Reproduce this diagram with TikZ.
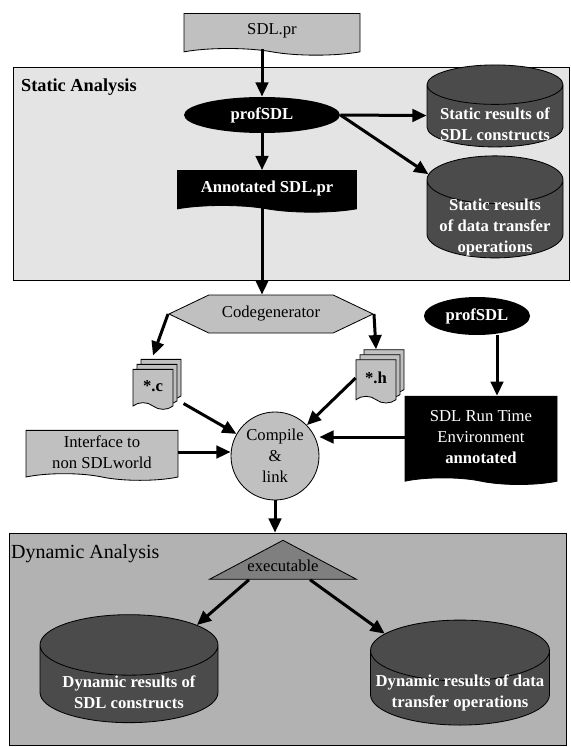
\documentclass[tikz,border=0pt]{standalone}
\usepackage{fontspec}
\setmainfont{Liberation Serif}
\usepackage{tikz}
\usetikzlibrary{arrows.meta,calc,shapes.geometric,shapes.symbols,shadows}

\definecolor{silver}{HTML}{C0C0C0}
\definecolor{lightarea}{HTML}{E4E4E4}
\definecolor{darkarea}{HTML}{B2B2B2}
\definecolor{storefill}{HTML}{4B4B4B}
\definecolor{trifill}{HTML}{7F7F7F}

\begin{document}
\begin{tikzpicture}[->,>={Triangle[length=8.5pt,width=7.5pt]},line width=1.8pt,
                    x=0.6pt,y=-0.6pt,font=\fontsize{10}{12.5}\selectfont]
  \tikzstyle{every node}=[line width=0.5pt,inner sep=1pt,align=center]
  \tikzstyle{area}=[draw,rectangle]
  \tikzstyle{doc}=[draw,tape,tape bend top=none,tape bend bottom=out and in,
                   tape bend height=4pt]
  \tikzstyle{blackdoc}=[doc,fill=black,text=white]
  \tikzstyle{oval}=[ellipse,fill=black,text=white,inner sep=0pt]
  \tikzstyle{store}=[draw,cylinder,shape border rotate=90,shape aspect=0.3,
                     fill=storefill,inner sep=0pt]
  \tikzstyle{storetext}=[text=white,font=\fontsize{10}{12.5}\selectfont\bfseries,yshift=-5pt]
  \tikzstyle{stack}=[doc,fill=silver,
                     double copy shadow={shadow xshift=2.4pt,shadow yshift=3pt}]

  \useasboundingbox (0,0) rectangle (571,747);

  % static part
  \node[area,fill=lightarea,minimum width=333.6pt,minimum height=127.8pt] (static) at (291,173.5) {};
  \node[anchor=north west,font=\fontsize{11}{13}\selectfont\bfseries] (stlabel) at (19,77) {Static Analysis};

  \node[doc,fill=silver,minimum width=105.6pt,minimum height=25pt] (sdlpr)   at (272,31)  {SDL.pr};
  \node[oval,minimum width=93.6pt,minimum height=21.6pt]           (prof1)   at (262,115) {\bfseries profSDL};
  \node[blackdoc,minimum width=107.4pt,minimum height=25pt]        (annot)   at (267,188) {\bfseries Annotated SDL.pr};
  \node[store,shape aspect=0.29,minimum height=49.2pt,
        label={[storetext]center:Static results of\\SDL constructs}]              (st1) at (495,116) {\rule{81.6pt}{0pt}};
  \node[store,shape aspect=0.35,minimum height=61.2pt,
        label={[storetext]center:Static results\\of data transfer\\operations}]   (st2) at (495,219) {\rule{81.6pt}{0pt}};

  % code generation and linking
  \node[signal,signal to=west and east,signal pointer angle=51,draw,fill=silver,
        minimum width=122.4pt,minimum height=22.8pt]                (codegen) at (271,314) {Codegenerator};
  \node[stack,minimum width=24pt,minimum height=24pt]              (cfile)   at (153,386) {\bfseries *.c};
  \node[stack,minimum width=24pt,minimum height=26pt]              (hfile)   at (376,378) {\bfseries *.h};
  \node[circle,draw,fill=silver,minimum size=52.8pt,inner sep=0pt] (comp)    at (275,456) {Compile\\\&\\link};
  \node[doc,fill=silver,minimum width=91.2pt,minimum height=30pt]  (iface)   at (102,452) {Interface to\\non SDLworld};
  \node[oval,minimum width=63.6pt,minimum height=22.8pt]           (prof2)   at (477,316) {\bfseries profSDL};
  \node[blackdoc,minimum width=91.2pt,minimum height=53pt]         (rt)      at (481,437) {SDL Run Time\\Environment\\\textbf{annotated}};

  % dynamic part
  \node[area,fill=darkarea,minimum width=334.2pt,minimum height=127.2pt] (dynamic) at (287.5,639) {};
  \node[anchor=north west,font=\fontsize{12}{14}\selectfont] (dylabel) at (9,543) {Dynamic Analysis};

  \node[isosceles triangle,shape border rotate=90,isosceles triangle stretches,
        draw,fill=trifill,inner sep=0pt,minimum width=88.2pt,minimum height=23.4pt]
        (exe) at (283,561) {\makebox[0pt]{\smash{\raisebox{-6pt}{executable}}}};
  \node[store,shape aspect=0.34,minimum height=64.8pt,
        label={[storetext]center:Dynamic results of\\SDL constructs}]             (dy1) at (129,684) {\rule{106.8pt}{0pt}};
  \node[store,shape aspect=0.34,minimum height=63pt,
        label={[storetext,yshift=2pt]center:Dynamic results of data\\transfer operations}] (dy2) at (460,688) {\rule{107.4pt}{0pt}};

  \path (sdlpr.south -| prof1.north) edge (prof1.north)
        (prof1.east) edge (st1)
        (prof1.east) edge (st2)
        (prof1.south) edge (annot.north -| prof1.south)
        (annot.south -| prof1) edge (codegen.north -| prof1)
        (codegen.west) edge ([yshift=8pt]cfile.north)
        (codegen.east) edge ([yshift=6pt]hfile.north)
        (cfile) edge[shorten <=7pt] (comp)
        (hfile.west) edge (comp)
        (iface.east) edge (iface.east -| comp.west)
        (rt.west) edge (rt.west -| comp.east)
        ([xshift=12pt]prof2.south) edge ([xshift=12pt]prof2.south |- rt.north)
        (comp.south) edge (comp.south |- dynamic.north)
        ($(exe.south)+(-34,0)$) edge (dy1)
        ($(exe.south)+(27,0)$) edge (dy2);
\end{tikzpicture}
\end{document}
